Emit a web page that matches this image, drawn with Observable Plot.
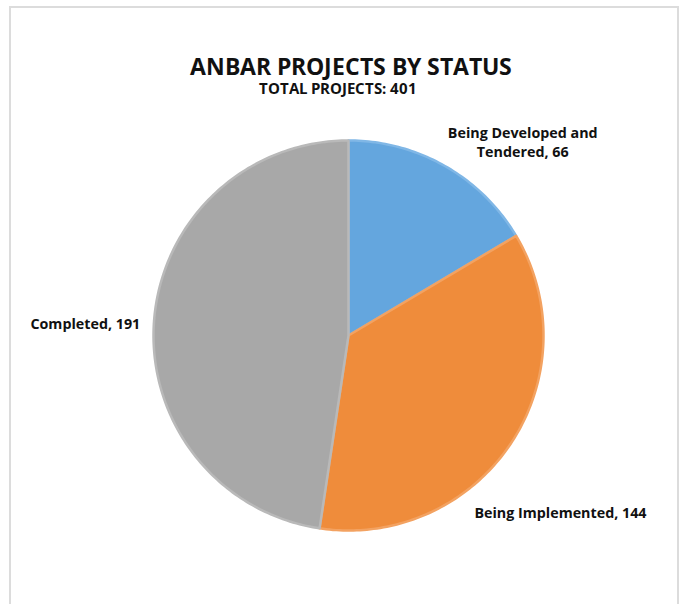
<!DOCTYPE html>
<html>
<head>
<meta charset="utf-8">
<script src="https://cdn.jsdelivr.net/npm/d3@7"></script>
<script src="https://cdn.jsdelivr.net/npm/@observablehq/plot@0.6"></script>
<style>
  @font-face {
    font-family: "TitleSans";
    src: local("Open Sans Bold"), local("OpenSans-Bold"), local("Open Sans");
    font-weight: 700;
    ascent-override: 90%;
    descent-override: 20%;
    line-gap-override: 0%;
  }
  html, body { margin: 0; padding: 0; background: #fff; }
  #wrap { position: relative; width: 680px; height: 604px; overflow: hidden; font-family: "Open Sans", sans-serif; }
  #frame { position: absolute; left: 9px; top: 6px; width: 670px; height: 700px; border: 2px solid #dcdcdc; box-sizing: border-box; }
  #titles { position: absolute; left: 0; top: 57px; width: 696px; text-align: center; font-weight: 700; color: #111; font-family: "TitleSans", "Open Sans", sans-serif; }
  #title { display: block; font-size: 22.5px; line-height: 22px; padding-left: 6px; }
  #subtitle { display: block; font-size: 14.5px; line-height: 16px; margin-top: 1.5px; padding-right: 20px; }
  #chart { position: absolute; left: 0; top: 0; }
</style>
</head>
<body>
<div id="wrap">
  <div id="frame"></div>
  <div id="chart"></div>
  <div id="titles"><span id="title">ANBAR PROJECTS BY STATUS</span><span id="subtitle">TOTAL PROJECTS: 401</span></div>
</div>
<script>
const categories = ["Being Developed and Tendered", "Being Implemented", "Completed"];
const values = [66, 144, 191];
const labelLines = [["Being Developed and", "Tendered, 66"], ["Being Implemented, 144"], ["Completed, 191"]];
const fills = ["#64a6de", "#ef8c3b", "#a8a8a8"];
const strokes = ["#80b7e6", "#f3a261", "#b9b9b9"];

const rows = categories.map((c, i) => ({category: c, value: values[i], i}));
const arcs = d3.pie().sort(null).value(d => d.value)(rows);

// polygon outline of each slice in unit-circle coordinates (y up)
const pts = [];
for (const a of arcs) {
  const n = Math.max(2, Math.ceil((a.endAngle - a.startAngle) / (Math.PI / 180)));
  pts.push({category: a.data.category, x: 0, y: 0});
  for (let k = 0; k <= n; k++) {
    const t = a.startAngle + (a.endAngle - a.startAngle) * k / n;
    pts.push({category: a.data.category, x: Math.sin(t), y: Math.cos(t)});
  }
  pts.push({category: a.data.category, x: 0, y: 0});
}

const mid = a => (a.startAngle + a.endAngle) / 2;
const labelMarks = [
  {i: 0, r: 1.05, dx: 73, dy: -16},
  {i: 1, r: 1.05, dx: 42, dy: 62},
  {i: 2, r: 1.05, dx: -59, dy: 3}
].map(o => {
  const a = arcs[o.i];
  return Plot.text([a], {
    x: d => Math.sin(mid(d)) * o.r,
    y: d => Math.cos(mid(d)) * o.r,
    text: d => labelLines[d.data.i].join("\n"),
    dx: o.dx, dy: o.dy,
    fontFamily: "Open Sans", fontWeight: 700, fontSize: 14.3, fill: "#111",
    lineHeight: 1.33, textAnchor: "middle"
  });
});

const chart = Plot.plot({
  width: 680,
  height: 604,
  marginLeft: 153,
  marginRight: 137,
  marginTop: 140,
  marginBottom: 74,
  x: {domain: [-1, 1], axis: null},
  y: {domain: [-1, 1], axis: null},
  color: {domain: categories, range: fills},
  style: {background: "transparent", overflow: "visible"},
  marks: [
    Plot.line(pts, {
      x: "x", y: "y", z: "category",
      fill: "category",
      stroke: d => strokes[categories.indexOf(d.category)],
      strokeWidth: 2.5, strokeLinejoin: "round", curve: "linear"
    }),
    ...labelMarks
  ]
});
document.getElementById("chart").appendChild(chart);
</script>
</body>
</html>
